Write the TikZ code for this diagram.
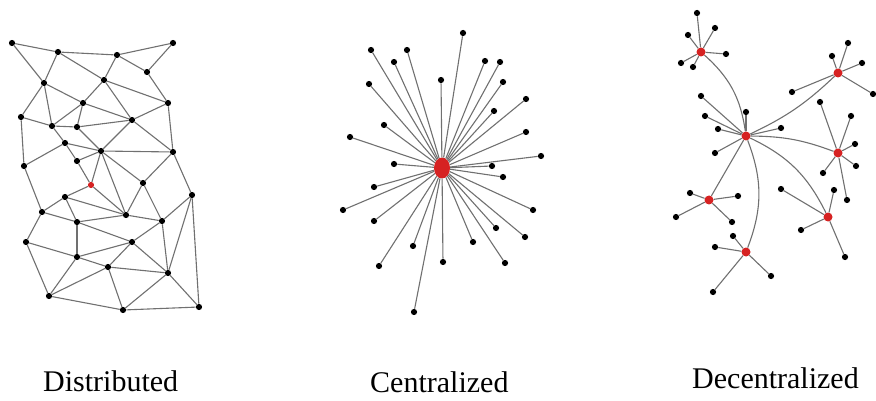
\documentclass[tikz,border=0pt]{standalone}
\usepackage{fontspec}
\setmainfont{Liberation Serif}
\usetikzlibrary{shapes.geometric}
\definecolor{edgegray}{RGB}{112,112,112}
\definecolor{hubred}{RGB}{214,34,34}
\begin{document}
\begin{tikzpicture}[x=1pt,y=1pt,
  ln/.style={draw=edgegray,line width=1.1pt},
  dot/.style={circle,fill=black,inner sep=0pt,minimum size=6.2pt},
  reddot/.style={circle,fill=hubred,inner sep=0pt,minimum size=6.2pt},
  hub/.style={circle,fill=hubred,inner sep=0pt,minimum size=9pt},
  bighub/.style={ellipse,fill=hubred,inner sep=0pt,minimum width=16pt,minimum height=21pt},
  lbl/.style={font=\fontsize{30}{36}\selectfont,anchor=base west,inner sep=0pt}]
\useasboundingbox (0,0) rectangle (876,-401);
% ---------------- Distributed ----------------
\foreach \n/\x/\y in {A/12/43,B/58/52,C/117/55,D/173/43,E/147/72,F/44/83,G/104/80,H/83/103,I/168/103,J/21/117,K/52/126,L/77/127,M/132/120,N/65/143,O/101/151,P/173/152,Q/24/166,R/77/161,T/143/183,S/65/197,U/192/195,V/42/212,W/77/222,X/126/215,Y/162/221,Z/26/242,AA/132/242,AB/77/257,AC/108/267,AD/168/273,AE/49/296,AF/123/310,AG/199/307}
  \node[dot] (d\n) at (\x,-\y) {};
\node[reddot] (dred) at (91,-185) {};
\foreach \a/\b in {A/B,B/C,C/D,D/E,C/E,A/F,B/F,B/G,C/G,G/H,G/M,G/I,E/I,F/H,F/K,F/J,H/K,H/L,H/M,J/K,K/L,L/M,I/M,I/P,M/P,M/O,K/N,L/O,N/O,N/R,N/Q,J/Q,O/P,O/R,R/red,O/red,O/X,O/T,P/T,P/U,Q/V,red/S,red/X,S/V,S/W,S/X,V/W,V/Z,W/X,W/AB,W/AA,X/Y,T/X,T/Y,U/Y,U/AD,U/AG,Y/AA,Y/AD,Z/AB,Z/AE,AA/AB,AA/AC,AA/AD,AB/AC,AB/AE,AC/AE,AC/AF,AC/AD,AE/AF,AD/AF,AD/AG,AF/AG}
  \draw[ln] (d\a) -- (d\b);
% ---------------- Centralized ----------------
\node[bighub] (cc) at (442,-168) {};
\foreach \x/\y [count=\i] in {463/33,371/50,407/50,394/62,485/61,500/62,369/84,441/80,503/82,526/99,494/111,384/125,350/137,526/132,541/156,394/164,492/166,503/177,374/187,343/210,533/210,374/221,496/228,525/237,413/246,473/242,379/266,443/262,505/263,414/312}
  {\node[dot] (c\i) at (\x,-\y) {};
   \draw[ln] (cc) -- (c\i);}
% ---------------- Decentralized ----------------
\node[hub] (hC) at (746,-136) {};
\node[hub] (h1) at (701,-52) {};
\node[hub] (h2) at (838,-73) {};
\node[hub] (h3) at (838,-153) {};
\node[hub] (h4) at (709,-200) {};
\node[hub] (h5) at (828,-217) {};
\node[hub] (h6) at (746,-252) {};
\draw[ln] (hC) to[bend right=20] (h1);
\draw[ln] (hC) to[bend right=9] (h2);
\draw[ln] (hC) to[bend left=10] (h3);
\draw[ln] (hC) -- (h4);
\draw[ln] (hC) to[bend left=19] (h5);
\draw[ln] (hC) to[bend left=21] (h6);
\foreach \h/\x/\y [count=\i] in {
  h1/697/13,h1/715/28,h1/688/35,h1/726/54,h1/681/63,h1/693/67,
  h2/848/43,h2/832/56,h2/862/63,h2/873/94,h2/792/92,
  hC/701/96,hC/746/112,hC/705/116,hC/718/129,hC/781/128,hC/715/153,
  h3/820/102,h3/851/116,h3/855/144,h3/856/166,h3/823/173,h3/847/200,
  h4/690/193,h4/738/196,h4/676/217,h4/732/222,
  h5/781/189,h5/834/190,h5/801/230,h5/845/257,
  h6/733/236,h6/715/247,h6/771/276,h6/713/292}
  {\node[dot] (e\i) at (\x,-\y) {};
   \draw[ln] (\h) -- (e\i);}
% ---------------- Labels ----------------
\node[lbl] (t1) at (43,-391) {Distributed};
\node[lbl] (t2) at (370,-392) {Centralized};
\node[lbl] (t3) at (692,-388) {Decentralized};
\end{tikzpicture}
\end{document}
